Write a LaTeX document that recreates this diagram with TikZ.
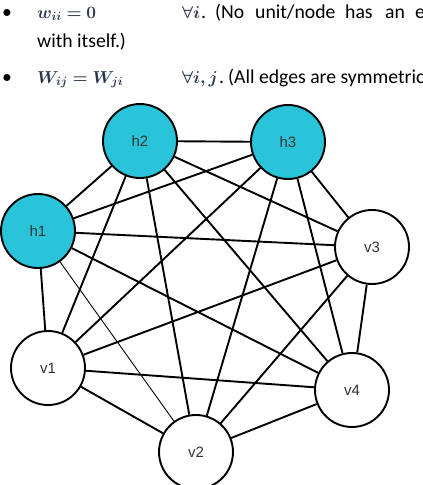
\documentclass[tikz,border=0pt]{standalone}
\usepackage{amsmath}
\usepackage{bm}
\usepackage{fontspec}
\setmainfont{Carlito}
\newfontfamily\labelfont{Liberation Sans}
\definecolor{hcyan}{HTML}{29C4D9}
\definecolor{mathblue}{HTML}{2A3550}
\definecolor{labelgray}{HTML}{333333}
\begin{document}
\begin{tikzpicture}[x=1pt,y=-1pt,
  unit/.style={circle,draw=black,line width=1.9pt,minimum size=74pt,inner sep=0pt,
    font=\labelfont\fontsize{15}{15}\selectfont,text=labelgray},
  hid/.style={unit,fill=hcyan},
  vis/.style={unit,fill=white},
  edge/.style={line width=1.9pt,black},
  thinedge/.style={line width=0.9pt,black},
  txt/.style={anchor=base west,inner sep=0pt,font=\fontsize{19.7}{23}\selectfont},
  mth/.style={anchor=base west,inner sep=0pt,font=\fontsize{18}{22}\selectfont,text=mathblue}]
\useasboundingbox (0,0) rectangle (423,485);
\clip (0,0) rectangle (423,485);
% text lines
\node[txt] (b1) at (2,18) {•};
\node[mth] (m1) at (37,18) {$\bm{w_{ii} = 0}$};
\node[mth] (f1) at (182,18) {$\bm{\forall i}$};
\node[txt] (p1) at (201,18) {.};
\node[txt] (t1a) at (215,18) {(No};
\node[txt] (t1b) at (255,18) {unit/node};
\node[txt] (t1c) at (345,18) {has};
\node[txt] (t1d) at (385,18) {an};
\node[txt] (t1e) at (415,18) {edge};
\node[txt] (t2) at (37,47) {with itself.)};
\node[txt] (b2) at (2,83) {•};
\node[mth] (m2) at (37,83) {$\bm{W_{ij} = W_{ji}}$};
\node[mth] (f2) at (182,83) {$\bm{\forall i, j}$};
\node[txt] (p2) at (219,83) {.};
\node[txt] (t3) at (228,83) {(All edges are symmetric.)};
% nodes
\node[hid] (h2) at (140,141) {h2};
\node[hid] (h3) at (288,142) {h3};
\node[hid] (h1) at (38,231) {h1};
\node[vis] (v3) at (372,247) {v3};
\node[vis] (v1) at (48,368) {v1};
\node[vis] (v4) at (352,390) {v4};
\node[vis] (v2) at (196,452) {v2};
% edges
\foreach \a/\b in {h1/h2,h1/h3,h1/v3,h1/v4,h1/v1,
                   h2/h3,h2/v3,h2/v1,h2/v2,h2/v4,
                   h3/v1,h3/v2,h3/v4,h3/v3,
                   v3/v4,v3/v1,v3/v2,
                   v1/v4,v1/v2,v2/v4}
  \draw[edge] (\a) -- (\b);
\draw[thinedge] (h1) -- (v2);
\end{tikzpicture}
\end{document}
